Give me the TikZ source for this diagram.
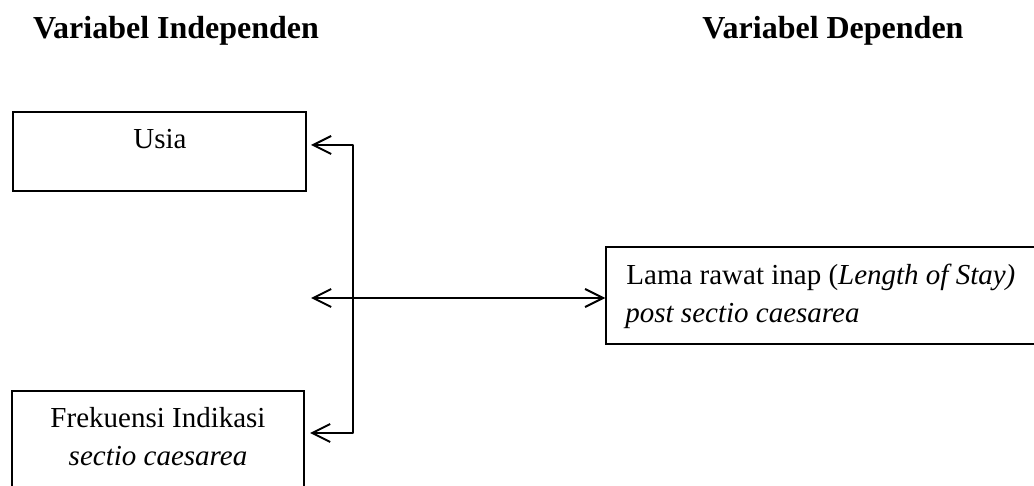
\documentclass[tikz,border=0pt]{standalone}
\usepackage{fontspec}
\setmainfont{Liberation Serif}
\usetikzlibrary{arrows.meta}
\begin{document}
\begin{tikzpicture}[x=0.5pt,y=-0.5pt,
  box/.style={draw, line width=0.7pt, inner sep=0pt},
  txt/.style={inner sep=0pt, font=\fontsize{14.5}{17}\selectfont},
  ttl/.style={inner sep=0pt, font=\fontsize{16}{19}\selectfont\bfseries, anchor=base},
  tip/.style={Straight Barb[length=9pt,width=9pt,line width=1pt]},
  conn/.style={line width=1pt},
  arr/.style={line width=1pt, -{Straight Barb[length=9pt,width=9pt,line width=1pt]}},
  arrb/.style={line width=1pt, {Straight Barb[length=9pt,width=9pt,line width=1pt]}-{Straight Barb[length=9pt,width=9pt,line width=1pt]}}
]
\useasboundingbox (0,0) rectangle (1034,486);

% titles
\node[ttl] (tind) at (176,39) {Variabel Independen};
\node[ttl] (tdep) at (833,39) {Variabel Dependen};

% boxes
\node[box, minimum width=293pt*0.5, minimum height=79pt*0.5] (usia) at (159.5,151.5) {};
\node[box, minimum width=292pt*0.5, minimum height=110pt*0.5] (frek) at (158,446) {};
\node[box, minimum width=450pt*0.5, minimum height=97pt*0.5] (los) at (831,295.5) {};

% texts
\node[txt, anchor=base] (usiaT) at (160,149) {Usia};
\node[txt, anchor=base] (frekT1) at (158,428) {Frekuensi Indikasi};
\node[txt, anchor=base] (frekT2) at (158,466) {\itshape sectio caesarea};
\node[txt, anchor=base west] (losT1) at (626,285) {Lama rawat inap (\textit{Length of Stay)}};
\node[txt, anchor=base west] (losT2) at (625,322) {\itshape post sectio caesarea};

% connectors
\coordinate (jt) at (353,145);
\coordinate (jb) at (353,433);
\coordinate (tU) at (311,145);
\coordinate (tF) at (310,433);
\coordinate (tM) at (311,298);
\draw[conn, line cap=round] (jt) -- (jb);
\draw[arr] (jt) -- (tU);
\draw[arr] (jb) -- (tF);
\draw[arrb] (tM) -- (los.west |- tM);
\end{tikzpicture}
\end{document}
